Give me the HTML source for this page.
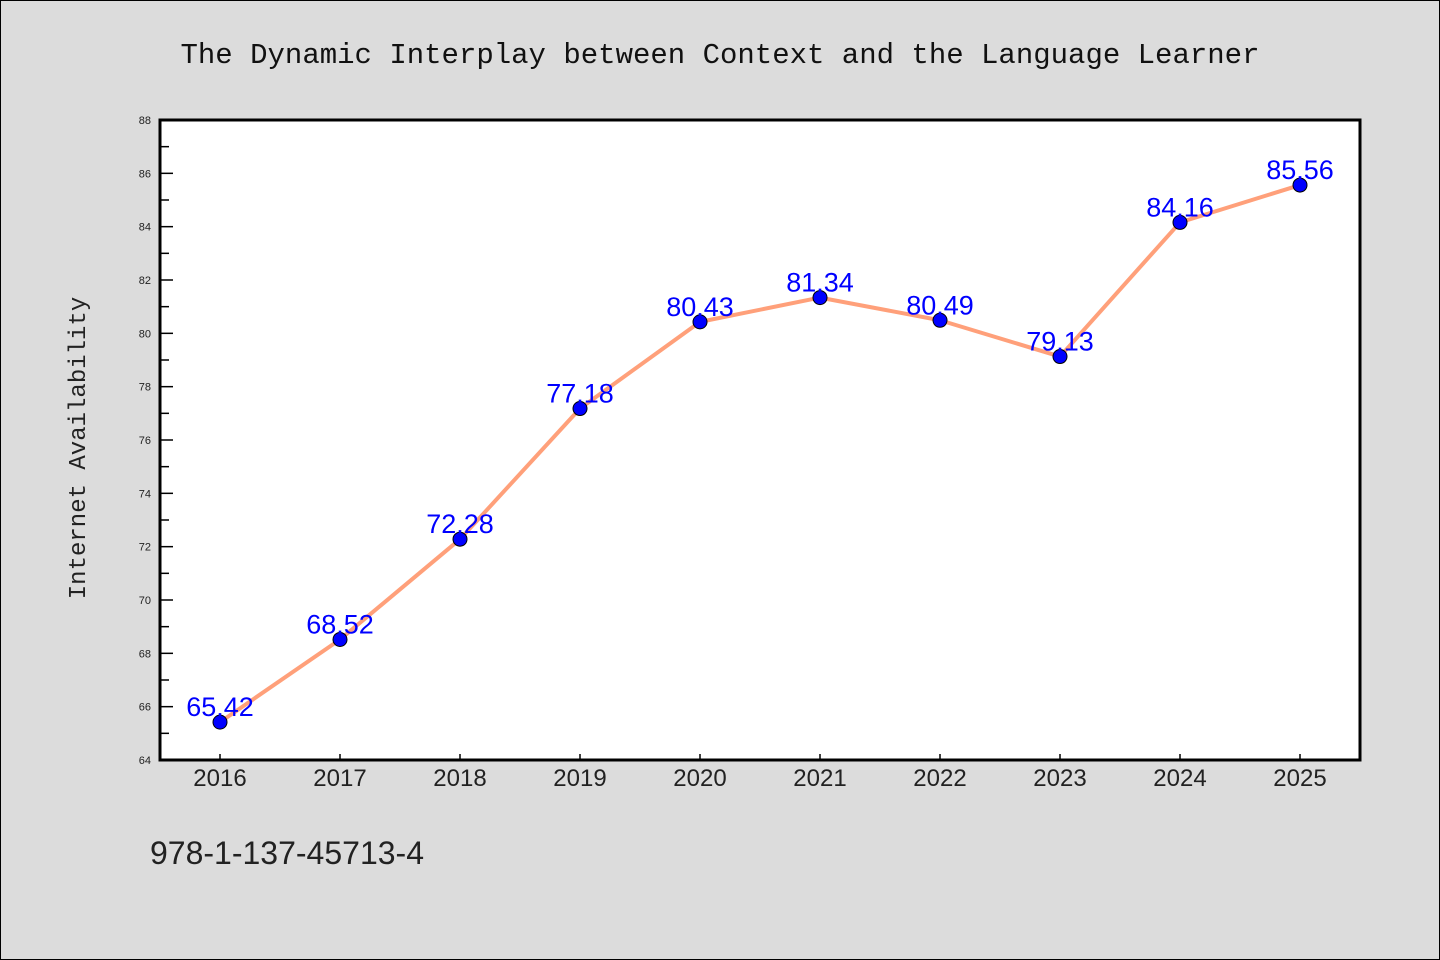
<!DOCTYPE html>
<html><head><meta charset="utf-8"><style>
html,body{margin:0;padding:0;background:#dcdcdc;}
svg{display:block;font-family:"WenQuanYi Zen Hei","Liberation Sans",sans-serif;}
</style></head><body>
<svg id="chart" width="1440" height="960" xmlns="http://www.w3.org/2000/svg">
<rect x="0.5" y="0.5" width="1439" height="959" fill="#dcdcdc" stroke="#000"/>
<text x="720" y="63" text-anchor="middle" font-size="29" fill="#111" font-family="'WenQuanYi Zen Hei Mono','Liberation Mono',monospace">The Dynamic Interplay between Context and the Language Learner</text>
<rect x="160" y="120" width="1200" height="640" fill="#fff"/>
<g id="axes"></g>
<g id="series"></g>
<rect x="160" y="120" width="1200" height="640" fill="none" stroke="#000" stroke-width="3"/>
<text x="85" y="448" text-anchor="middle" font-size="24" fill="#222" font-family="'WenQuanYi Zen Hei Mono','Liberation Mono',monospace" transform="rotate(-90 85 448)">Internet Availability</text>
<text x="150" y="864" font-size="32" fill="#222">978-1-137-45713-4</text>
</svg>
<script>
const years = ["2016","2017","2018","2019","2020","2021","2022","2023","2024","2025"];
const values = [65.42,68.52,72.28,77.18,80.43,81.34,80.49,79.13,84.16,85.56];
const yTicks = [64,66,68,70,72,74,76,78,80,82,84,86,88];
const yMin = 64, yMax = 88;
const NS = "http://www.w3.org/2000/svg";
const X = i => 160 + 60 + i * 120;
const Y = v => 760 - (v - yMin) / (yMax - yMin) * 640;
const axes = document.getElementById('axes');
const series = document.getElementById('series');
function mk(tag, attrs, parent){const e=document.createElementNS(NS,tag);for(const k in attrs)e.setAttribute(k,attrs[k]);parent.appendChild(e);return e;}
yTicks.forEach((t,i)=>{
  const y=Y(t);
  const tk=mk('line',{x1:160,x2:173,y1:y,y2:y,stroke:'#000','stroke-width':1.5},axes);
  
  
  const lb=mk('text',{x:151,y:y+4,'text-anchor':'end','font-size':11,fill:'#222'},axes);
  lb.textContent=t;
  
  
  if(i<yTicks.length-1){
    const ym=Y(t+(yTicks[1]-yTicks[0])/2);
    const mn=mk('line',{x1:160,x2:169,y1:ym,y2:ym,stroke:'#000','stroke-width':1.5},axes);
    
    
  }
});
years.forEach((yr,i)=>{
  const x=X(i);
  const tk=mk('line',{x1:x,x2:x,y1:760,y2:754,stroke:'#000','stroke-width':1.5},axes);
  
  
  const lb=mk('text',{x:x,y:786,'text-anchor':'middle','font-size':24,fill:'#222'},axes);
  lb.textContent=yr;
  
  
});
const pl=mk('polyline',{points:values.map((v,i)=>X(i)+','+Y(v)).join(' '),fill:'none',stroke:'#ffa07a','stroke-width':4,'stroke-linejoin':'round'},series);


values.forEach((v,i)=>{
  const c=mk('circle',{cx:X(i),cy:Y(v),r:7,fill:'#0000ff',stroke:'#000','stroke-width':1},series);
  
  
});
values.forEach((v,i)=>{
  const t=mk('text',{x:X(i),y:Y(v)-6,'text-anchor':'middle','font-size':27,fill:'#0000ff'},series);
  t.textContent=v.toFixed(2);
  
  
});
</script>
</body></html>
